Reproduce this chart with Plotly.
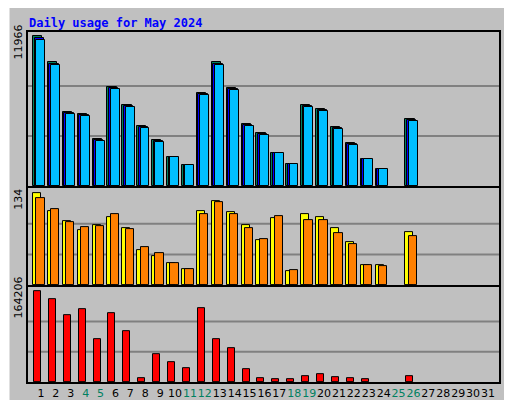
import plotly.graph_objects as go

days = list(range(1, 32))
weekend = [4, 5, 11, 12, 18, 19, 25, 26]

def sc(tops, base, top_px, maxv):
    return [None if t is None else round((base - t) / (base - top_px) * maxv) for t in tops]

hit_px = [29,55,104,106,131,79,97,118,132,148,156,85,55,80,116,125,144,155,97,101,119,135,150,160,None,111]+[None]*5
hits = sc(hit_px, 177, 29, 11966)
files = [None if v is None else round(v*0.985) for v in hits]
pages = [None if v is None else round(v*0.975) for v in hits]

vis_px = [28,82,112,138,124,99,132,198,216,237,255,82,51,85,124,168,102,261,90,99,132,174,243,243,None,144]+[None]*5
site_px = [42,78,114,129,126,90,135,189,207,237,255,90,54,90,132,165,96,258,111,108,150,180,243,246,None,156]+[None]*5
visits = sc(vis_px, 303, 28, 134)
sites = sc(site_px, 303, 28, 134)

kb_px = [42,66,114,96,186,108,162,306,231,258,276,93,186,213,279,306,309,309,300,294,303,306,309,None,None,300]+[None]*5
kbytes = sc(kb_px, 317, 42, 164206)

ticktext = [f"<span style='color:#008060'>{d}</span>" if d in weekend else str(d) for d in days]

fig = go.Figure()
def bar(y, color, off, w, xa, ya):
    fig.add_trace(go.Bar(x=days, y=y, marker=dict(color=color, line=dict(color='black', width=1)),
                         offset=off, width=w, xaxis=xa, yaxis=ya, showlegend=False, hoverinfo='skip'))

bar(hits, '#008060', -0.54, 0.62, 'x', 'y')
bar(files, '#0000ff', -0.43, 0.62, 'x', 'y')
bar(pages, '#00bfff', -0.32, 0.6, 'x', 'y')
bar(visits, '#ffff00', -0.54, 0.54, 'x2', 'y2')
bar(sites, '#ff8000', -0.32, 0.56, 'x2', 'y2')
bar(kbytes, '#ff0000', -0.47, 0.47, 'x3', 'y3')

maxes = [11966, 134, 164206]
tops = [11966*152/148, 134*97/92, 164206*96/91.7]
doms = [[0.56, 1.0], [0.277, 0.554], [0.0, 0.271]]
axn = ['', '2', '3']
shapes = []
for i in range(3):
    m = maxes[i]
    fig.layout['yaxis'+axn[i]] = dict(domain=doms[i], range=[0, tops[i]], tickvals=[m], ticktext=[str(m)],
        tickangle=-90, ticklabelposition='outside bottom', automargin=False,
        showgrid=False, zeroline=False, showline=True, linecolor='black', linewidth=2,
        mirror=True, ticks='', tickfont=dict(family='DejaVu Sans', size=11, color='black'), anchor='x'+axn[i], fixedrange=True)
    fig.layout['xaxis'+axn[i]] = dict(range=[0.13, 31.74], showgrid=False, zeroline=False, showline=True,
        linecolor='black', linewidth=2, mirror=True, ticks='', anchor='y'+axn[i], automargin=False,
        tickvals=days, ticktext=ticktext, showticklabels=(i == 2), tickangle=0,
        tickfont=dict(family='DejaVu Sans', size=11, color='black'))
    for f in (1/3, 2/3):
        shapes.append(dict(type='line', xref='x'+axn[i]+' domain', yref='y'+axn[i], x0=0, x1=1, y0=m*f, y1=m*f,
                           line=dict(color='#808080', width=2), layer='below'))

shapes += [
    dict(type='line', xref='paper', yref='paper', x0=-20/471, x1=-20/471, y0=-26/350, y1=376/350, line=dict(color='white', width=3)),
    dict(type='line', xref='paper', yref='paper', x0=-20/471, x1=492/471, y0=376/350, y1=376/350, line=dict(color='white', width=3)),
    dict(type='line', xref='paper', yref='paper', x0=491/471, x1=491/471, y0=-26/350, y1=376/350, line=dict(color='#606060', width=3)),
    dict(type='line', xref='paper', yref='paper', x0=-20/471, x1=492/471, y0=-25/350, y1=-25/350, line=dict(color='#606060', width=3)),
]

mono = 'DejaVu Sans Mono'
sep = "<span style='color:#606060'> / </span>"
top_lab = "<span style='color:#00bfff'>Pages</span>" + sep + "<span style='color:#0000ff'>Files</span>" + sep + "<span style='color:#008060'>Hits</span>"
low_lab = ("<span style='color:#ff0000'>kB F</span>" + sep + "<span style='color:#0000ff'>kB In</span>" + sep +
           "<span style='color:#008060'>kB Out</span>" + sep + "<span style='color:#ff8000'>Sites</span>" + sep +
           "<span style='color:#e0e000'>Visits</span>")
ann = [
    dict(text="Daily usage for May 2024", xref='paper', yref='paper', x=-1/471, y=(374-15)/350, xanchor='left', yanchor='middle',
         showarrow=False, font=dict(family=mono, size=12, color='#0000ff', weight='bold')),
    dict(text=top_lab, textangle=-90, xref='paper', yref='paper', x=(494-20)/471, y=(374-164)/350, xanchor='left', yanchor='bottom',
         showarrow=False, font=dict(family=mono, size=10)),
    dict(text=low_lab, textangle=-90, xref='paper', yref='paper', x=(494-20)/471, y=(374-367)/350, xanchor='left', yanchor='bottom',
         showarrow=False, font=dict(family=mono, size=10)),
]

fig.update_layout(width=512, height=400, margin=dict(l=20, r=21, t=24, b=26, autoexpand=False), paper_bgcolor='#c0c0c0',
                  plot_bgcolor='#c0c0c0', barmode='overlay', bargap=0, shapes=shapes, annotations=ann, showlegend=False)
fig.write_html("out.html")
